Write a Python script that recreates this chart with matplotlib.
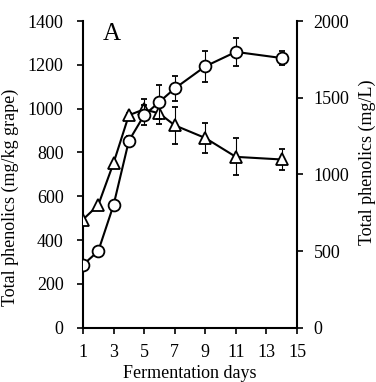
import matplotlib.pyplot as plt

plt.rcParams['font.family'] = 'Liberation Serif'
plt.rcParams['font.size'] = 13

days = [1, 2, 3, 4, 5, 6, 7, 9, 11, 14]

# circles (mg/kg grape)
grape = [287, 350, 560, 853, 970, 1031, 1092, 1193, 1259, 1231]
grape_err = [0, 0, 0, 20, 46, 77, 56, 72, 64, 33]

# triangles
wine = [494, 560, 752, 970, 997, 978, 924, 866, 780, 768]
wine_err = [0, 0, 0, 10, 46, 46, 85, 70, 84, 50]

fig = plt.figure(figsize=(3.76, 3.82), dpi=100)
ax = fig.add_axes([0.2207, 0.142, 0.5692, 0.803])

ax.errorbar(days, wine, yerr=wine_err, color='black', lw=1.5, marker='^',
            ms=9, mfc='white', mec='black', mew=1.3, capsize=2.5,
            elinewidth=0.8, capthick=0.8, zorder=3)
ax.errorbar(days, grape, yerr=grape_err, color='black', lw=1.5, marker='o',
            ms=8.5, mfc='white', mec='black', mew=1.3, capsize=2.5,
            elinewidth=0.8, capthick=0.8, zorder=4)

ax.set_xlim(1, 15)
ax.set_ylim(0, 1400)
ax.set_xticks(range(1, 16, 2))
ax.set_yticks(range(0, 1401, 200))
ax.set_xlabel('Fermentation days')
ax.xaxis.set_label_coords(0.5, -0.122)
ax.set_ylabel('Total phenolics (mg/kg grape)', va='center')
ax.yaxis.set_label_coords(-0.34, 0.426)
ax.spines['top'].set_visible(False)
ax.spines['right'].set_visible(False)
for s in ['left', 'bottom']:
    ax.spines[s].set_linewidth(1.5)
ax.tick_params(axis='y', direction='out', length=4, width=1.2, pad=10)
ax.tick_params(axis='x', direction='out', length=4, width=1.2, pad=8)
ax.text(2.3, 1312, 'A', fontsize=18)

ax2 = ax.twinx()
ax2.set_ylim(0, 2000)
ax2.set_yticks(range(0, 2001, 500))
ax2.set_ylabel('Total phenolics (mg/L)', rotation=90, va='center')
ax2.yaxis.set_label_coords(1.33, 0.54)
ax2.spines['top'].set_visible(False)
ax2.spines['left'].set_visible(False)
ax2.spines['bottom'].set_visible(False)
ax2.spines['right'].set_linewidth(1.5)
ax2.tick_params(direction='out', length=4, width=1.2, pad=8)

fig.savefig('out.png', dpi=100)
